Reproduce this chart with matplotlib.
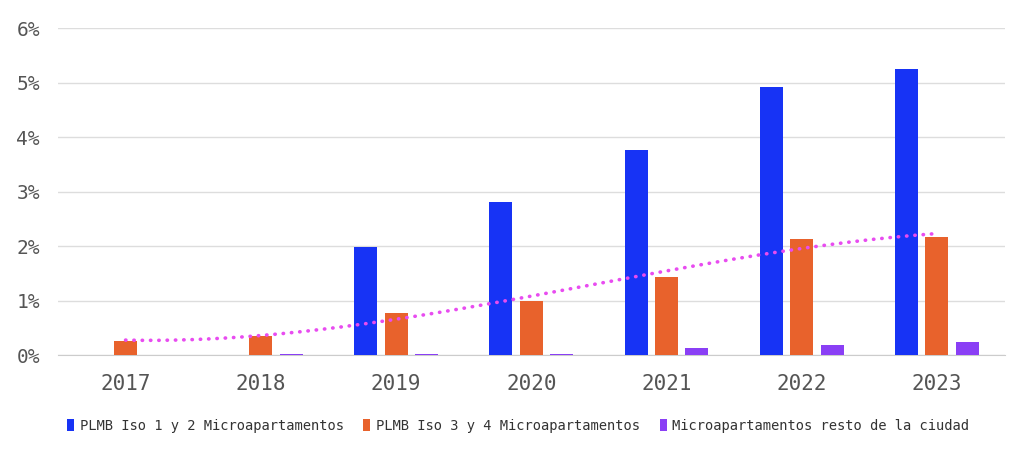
import numpy as np
import matplotlib.pyplot as plt

# Data (values in %)
years = ["2017", "2018", "2019", "2020", "2021", "2022", "2023"]
plmb_iso_12 = [0.0, 0.0, 1.98, 2.81, 3.76, 4.92, 5.25]
plmb_iso_34 = [0.26, 0.35, 0.77, 0.99, 1.43, 2.13, 2.17]
resto_ciudad = [0.0, 0.01, 0.01, 0.01, 0.13, 0.18, 0.23]

series_labels = ["PLMB Iso 1 y 2 Microapartamentos",
                 "PLMB Iso 3 y 4 Microapartamentos",
                 "Microapartamentos resto de la ciudad"]
colors = ["#1733F5", "#E8622C", "#8A3FF5"]
trend_color = "#E84CF0"

fig = plt.figure(figsize=(10.24, 4.54), dpi=100)
ax = fig.add_axes([0.0566, 0.218, 0.9244, 0.72])

x = np.arange(len(years))
width = 0.17
offset = 0.225
handles = []
for i, (vals, col) in enumerate(zip([plmb_iso_12, plmb_iso_34, resto_ciudad], colors)):
    b = ax.bar(x + (i - 1) * offset, vals, width, color=col, zorder=3)
    handles.append(b)

# polynomial (order 3) trendline on the Iso 3 y 4 series
coef = np.polyfit(x, plmb_iso_34, 3)
xs = np.linspace(0, len(years) - 1, 200)
ax.plot(xs, np.polyval(coef, xs), color=trend_color, lw=2.6,
        linestyle=(0, (0.1, 2.2)), dash_capstyle="round", zorder=4)

ax.set_xlim(-0.5, len(years) - 0.5)
ax.set_ylim(0, 6)
ax.set_yticks(range(0, 7))
ax.set_yticklabels([f"{v}%" for v in range(0, 7)])
ax.set_xticks(x)
ax.set_xticklabels(years)

ax.grid(axis="y", color="#dddddd", lw=1, zorder=0)
for s in ["top", "right", "left"]:
    ax.spines[s].set_visible(False)
ax.spines["bottom"].set_color("#cccccc")
ax.tick_params(axis="both", length=0)
ax.tick_params(axis="y", pad=13, labelsize=14, labelcolor="#555555")
ax.tick_params(axis="x", pad=14, labelsize=15, labelcolor="#555555")
for lbl in ax.get_xticklabels() + ax.get_yticklabels():
    lbl.set_family("DejaVu Sans Mono")

fig.legend(handles, series_labels, loc="center", bbox_to_anchor=(0.506, 0.062),
           ncol=3, frameon=False, handlelength=0.5, handleheight=0.9,
           handletextpad=0.4, columnspacing=1.45,
           prop={"family": "DejaVu Sans Mono", "size": 9.9})
for t in fig.legends[0].get_texts():
    t.set_color("#333333")

fig.savefig("out.png", dpi=100)
